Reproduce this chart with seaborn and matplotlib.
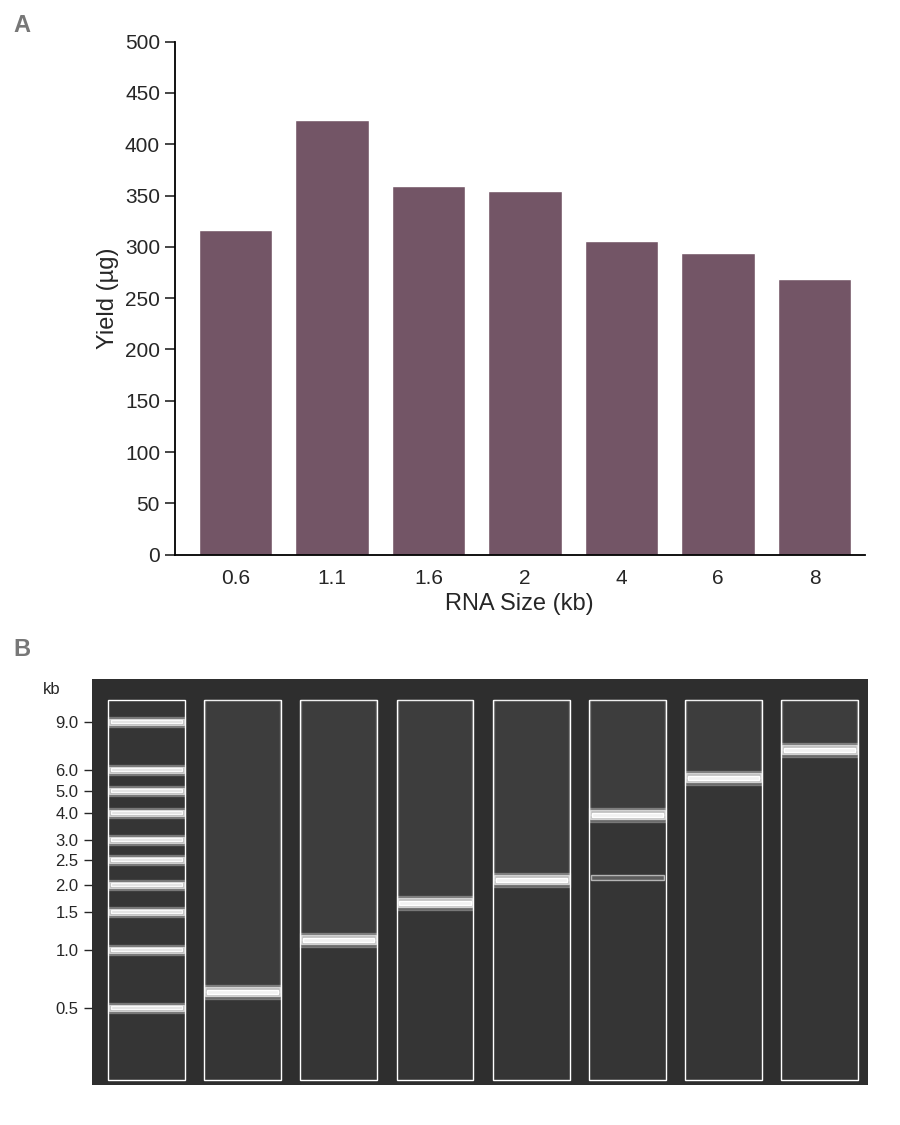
import matplotlib
matplotlib.use("Agg")
import matplotlib.pyplot as plt
import seaborn as sns
import pandas as pd
import numpy as np

sizes = ["0.6", "1.1", "1.6", "2", "4", "6", "8"]
yields = [316, 424, 359, 354, 306, 294, 269]

ladder_kb = ["9.0", "6.0", "5.0", "4.0", "3.0", "2.5", "2.0", "1.5", "1.0", "0.5"]
ladder_mig = [722, 770, 791, 813, 840, 860, 885, 912, 950, 1008]
lane_pos = [1, 2, 3, 4, 5, 6, 7]
sample_mig = [992, 940, 903, 880, 815, 778, 750]
faint_lane = [5]
faint_mig = [878]

sns.set_theme(style="ticks")
plt.rcParams['font.family'] = ['Liberation Sans', 'DejaVu Sans']

fig = plt.figure(figsize=(9, 11.25), dpi=100)

# Panel A
ax = fig.add_axes([0.194, 0.507, 0.767, 0.456])
df = pd.DataFrame({"size": sizes, "yield": yields})
sns.barplot(data=df, x="size", y="yield", color="#735566", saturation=1, width=0.76, ax=ax)
ax.set_ylim(0, 500)
ax.set_xlim(-0.63, 6.52)
ax.set_yticks(range(0, 501, 50))
ax.set_xlabel("RNA Size (kb)", fontsize=17)
ax.set_ylabel("Yield (µg)", fontsize=17)
ax.tick_params(axis="both", labelsize=15, length=7, width=1.2, direction="out")
ax.tick_params(axis="x", length=0, pad=10)
for s in ["top", "right"]:
    ax.spines[s].set_visible(False)
for s in ["left", "bottom"]:
    ax.spines[s].set_linewidth(1.3)
    ax.spines[s].set_color("black")

fig.text(0.015, 0.972, "A", fontsize=17, fontweight="bold", color="#777777")
fig.text(0.015, 0.417, "B", fontsize=17, fontweight="bold", color="#777777")

# Panel B gel
gx = fig.add_axes([0.102, 0.0356, 0.862, 0.361])
gx.set_facecolor("#2e2e2e")
gx.set_xlim(-0.57, 7.5)
gx.set_ylim(1085, 679)
# lane smear background
for lp in [0] + lane_pos:
    gx.bar(lp, 380, bottom=700, width=0.8, color="#353535", zorder=1)
# ladder
for m in ladder_mig:
    for w, h, a in [(0.8, 10, 0.25), (0.78, 6, 0.6), (0.74, 3, 0.9)]:
        gx.bar(0, h, bottom=m - h / 2, width=w, color="#e6e6e6", alpha=a, zorder=2)
# samples
for lp, m in zip(lane_pos, sample_mig):
    for w, h, a in [(0.8, 14, 0.25), (0.78, 9, 0.6), (0.74, 4, 1.0)]:
        gx.bar(lp, h, bottom=m - h / 2, width=w, color="#f2f2f2", alpha=a, zorder=3)
    gx.bar(lp, m - 700, bottom=700, width=0.78, color="#555555", alpha=0.25, zorder=2)
for lp, m in zip(faint_lane, faint_mig):
    gx.bar(lp, 5, bottom=m - 2.5, width=0.76, color="#777777", alpha=0.6, zorder=3)
gx.set_xticks([])
gx.set_yticks(ladder_mig)
gx.set_yticklabels(ladder_kb)
gx.tick_params(axis="y", labelsize=12, length=6, width=1, direction="out", left=True)
for s in gx.spines.values():
    s.set_visible(False)
fig.text(0.048, 0.383, "kb", fontsize=12)

fig.savefig("out.png", dpi=100)
